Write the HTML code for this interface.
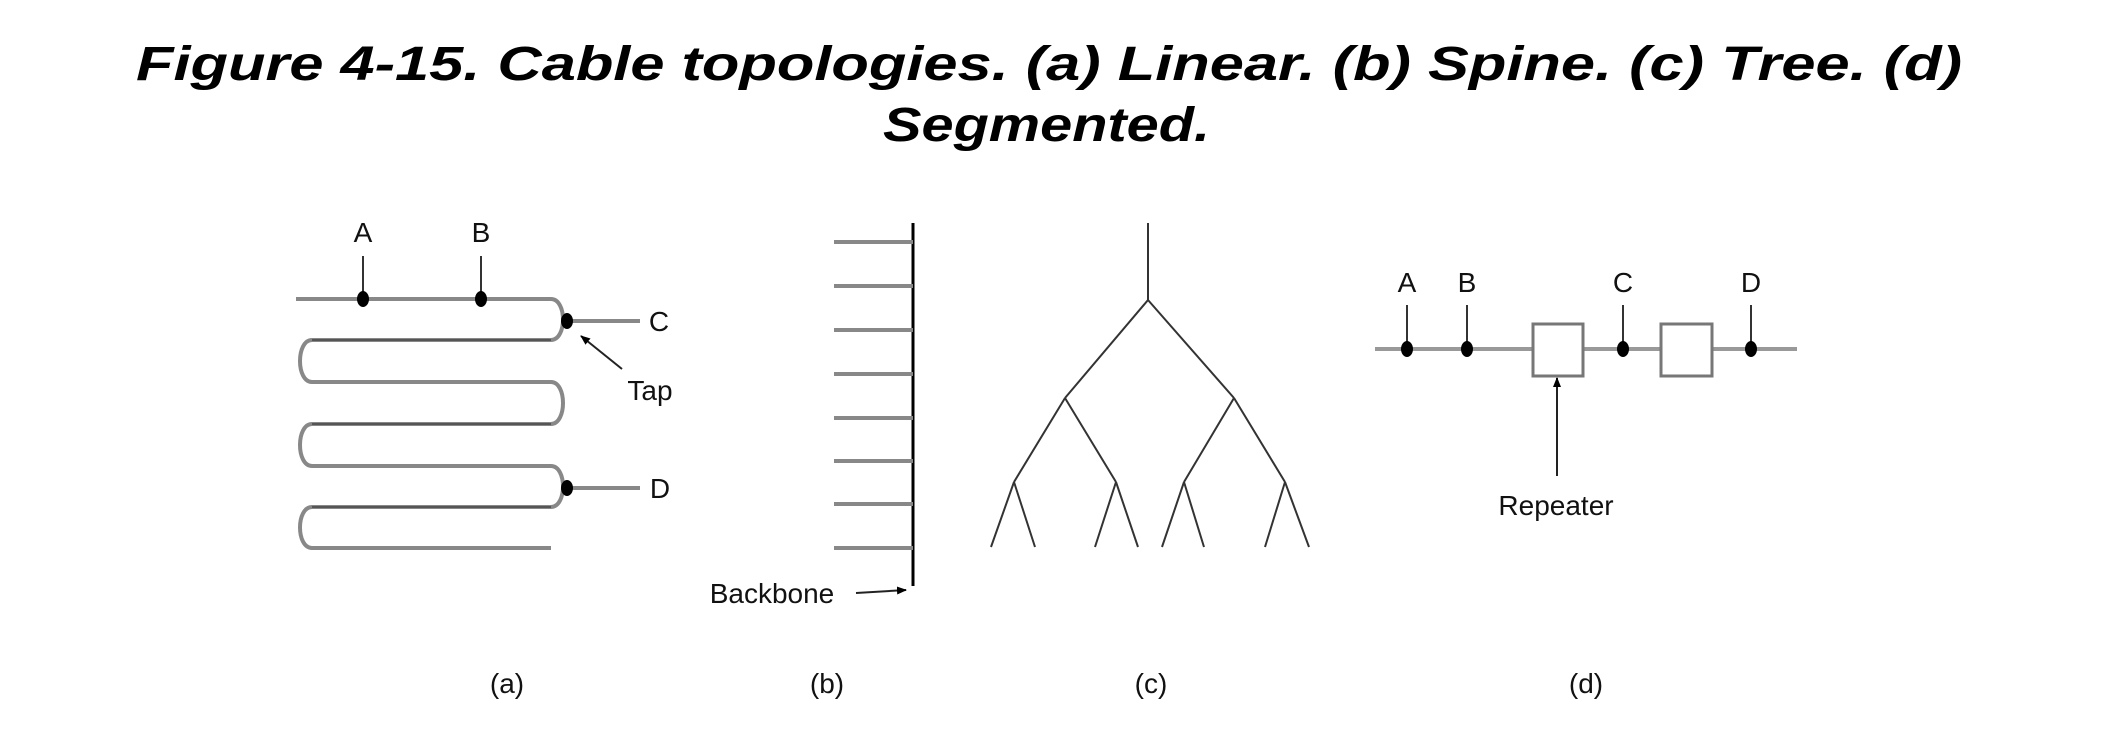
<!DOCTYPE html>
<html><head><meta charset="utf-8"><style>
html,body{margin:0;padding:0;background:#fff;}
svg{display:block;}
</style></head><body>
<svg width="2125" height="751" viewBox="0 0 2125 751" xmlns="http://www.w3.org/2000/svg">
<defs>
<marker id="ah" markerWidth="10" markerHeight="10" refX="9" refY="5" orient="auto" markerUnits="userSpaceOnUse">
<path d="M0,1 L10,5 L0,9 Z" fill="#000"/></marker>
</defs>
<g font-family="Liberation Sans, sans-serif" font-weight="bold" font-style="italic" font-size="48" fill="#000">
<text x="136" y="80" textLength="1826" lengthAdjust="spacingAndGlyphs">Figure 4-15. Cable topologies. (a) Linear. (b) Spine. (c) Tree. (d)</text>
<text x="883" y="141" textLength="327" lengthAdjust="spacingAndGlyphs">Segmented.</text>
</g>
<g font-family="Liberation Sans, sans-serif" font-size="28" fill="#111" text-anchor="middle">
<!-- (a) -->
<path d="M296 299 H551 C567 299 567 340 551 340 H312 C296 340 296 382 312 382 H551 C567 382 567 424 551 424 H312 C296 424 296 466 312 466 H551 C567 466 567 507 551 507 H312 C296 507 296 548 312 548 H551" fill="none" stroke="#888" stroke-width="4"/>
<path d="M312 340 H551 M312 424 H551 M312 507 H551" stroke="#555" stroke-width="2" fill="none"/>
<line x1="363" y1="256" x2="363" y2="299" stroke="#333" stroke-width="2"/>
<line x1="481" y1="256" x2="481" y2="299" stroke="#333" stroke-width="2"/>
<line x1="567" y1="321" x2="640" y2="321" stroke="#888" stroke-width="4"/>
<line x1="567" y1="488" x2="640" y2="488" stroke="#888" stroke-width="4"/>
<ellipse cx="363" cy="299" rx="6" ry="8" fill="#000"/>
<ellipse cx="481" cy="299" rx="6" ry="8" fill="#000"/>
<ellipse cx="567" cy="321" rx="6" ry="8" fill="#000"/>
<ellipse cx="567" cy="488" rx="6" ry="8" fill="#000"/>
<line x1="622" y1="369" x2="581" y2="336" stroke="#222" stroke-width="2" marker-end="url(#ah)"/>
<text x="363" y="242">A</text>
<text x="481" y="242">B</text>
<text x="659" y="331">C</text>
<text x="660" y="498">D</text>
<text x="650" y="400">Tap</text>
<text x="507" y="693">(a)</text>
<!-- (b) -->
<line x1="913" y1="223" x2="913" y2="586" stroke="#000" stroke-width="3"/>
<g stroke="#888" stroke-width="4">
<line x1="834" y1="242" x2="913" y2="242"/><line x1="834" y1="286" x2="913" y2="286"/>
<line x1="834" y1="330" x2="913" y2="330"/><line x1="834" y1="374" x2="913" y2="374"/>
<line x1="834" y1="418" x2="913" y2="418"/><line x1="834" y1="461" x2="913" y2="461"/>
<line x1="834" y1="504" x2="913" y2="504"/><line x1="834" y1="548" x2="913" y2="548"/>
</g>
<line x1="856" y1="593" x2="906" y2="590" stroke="#222" stroke-width="2" marker-end="url(#ah)"/>
<text x="772" y="603">Backbone</text>
<text x="827" y="693">(b)</text>
<!-- (c) -->
<g stroke="#333" stroke-width="2" fill="none">
<path d="M1148 223 V300 M1148 300 L1065 398 M1148 300 L1234 398"/>
<path d="M1065 398 L1014 482 M1065 398 L1116 482 M1234 398 L1184 482 M1234 398 L1285 482"/>
<path d="M1014 482 L991 547 M1014 482 L1035 547 M1116 482 L1095 547 M1116 482 L1138 547"/>
<path d="M1184 482 L1162 547 M1184 482 L1204 547 M1285 482 L1265 547 M1285 482 L1309 547"/>
</g>
<text x="1151" y="693">(c)</text>
<!-- (d) -->
<line x1="1375" y1="349" x2="1797" y2="349" stroke="#999" stroke-width="4"/>
<rect x="1533" y="324" width="50" height="52" fill="#fff" stroke="#777" stroke-width="3"/>
<rect x="1661" y="324" width="51" height="52" fill="#fff" stroke="#777" stroke-width="3"/>
<g stroke="#333" stroke-width="2">
<line x1="1407" y1="305" x2="1407" y2="349"/><line x1="1467" y1="305" x2="1467" y2="349"/>
<line x1="1623" y1="305" x2="1623" y2="349"/><line x1="1751" y1="305" x2="1751" y2="349"/>
</g>
<ellipse cx="1407" cy="349" rx="6" ry="8" fill="#000"/>
<ellipse cx="1467" cy="349" rx="6" ry="8" fill="#000"/>
<ellipse cx="1623" cy="349" rx="6" ry="8" fill="#000"/>
<ellipse cx="1751" cy="349" rx="6" ry="8" fill="#000"/>
<line x1="1557" y1="476" x2="1557" y2="378" stroke="#222" stroke-width="2" marker-end="url(#ah)"/>
<text x="1407" y="292">A</text>
<text x="1467" y="292">B</text>
<text x="1623" y="292">C</text>
<text x="1751" y="292">D</text>
<text x="1556" y="515">Repeater</text>
<text x="1586" y="693">(d)</text>
</g>
</svg>
</body></html>
